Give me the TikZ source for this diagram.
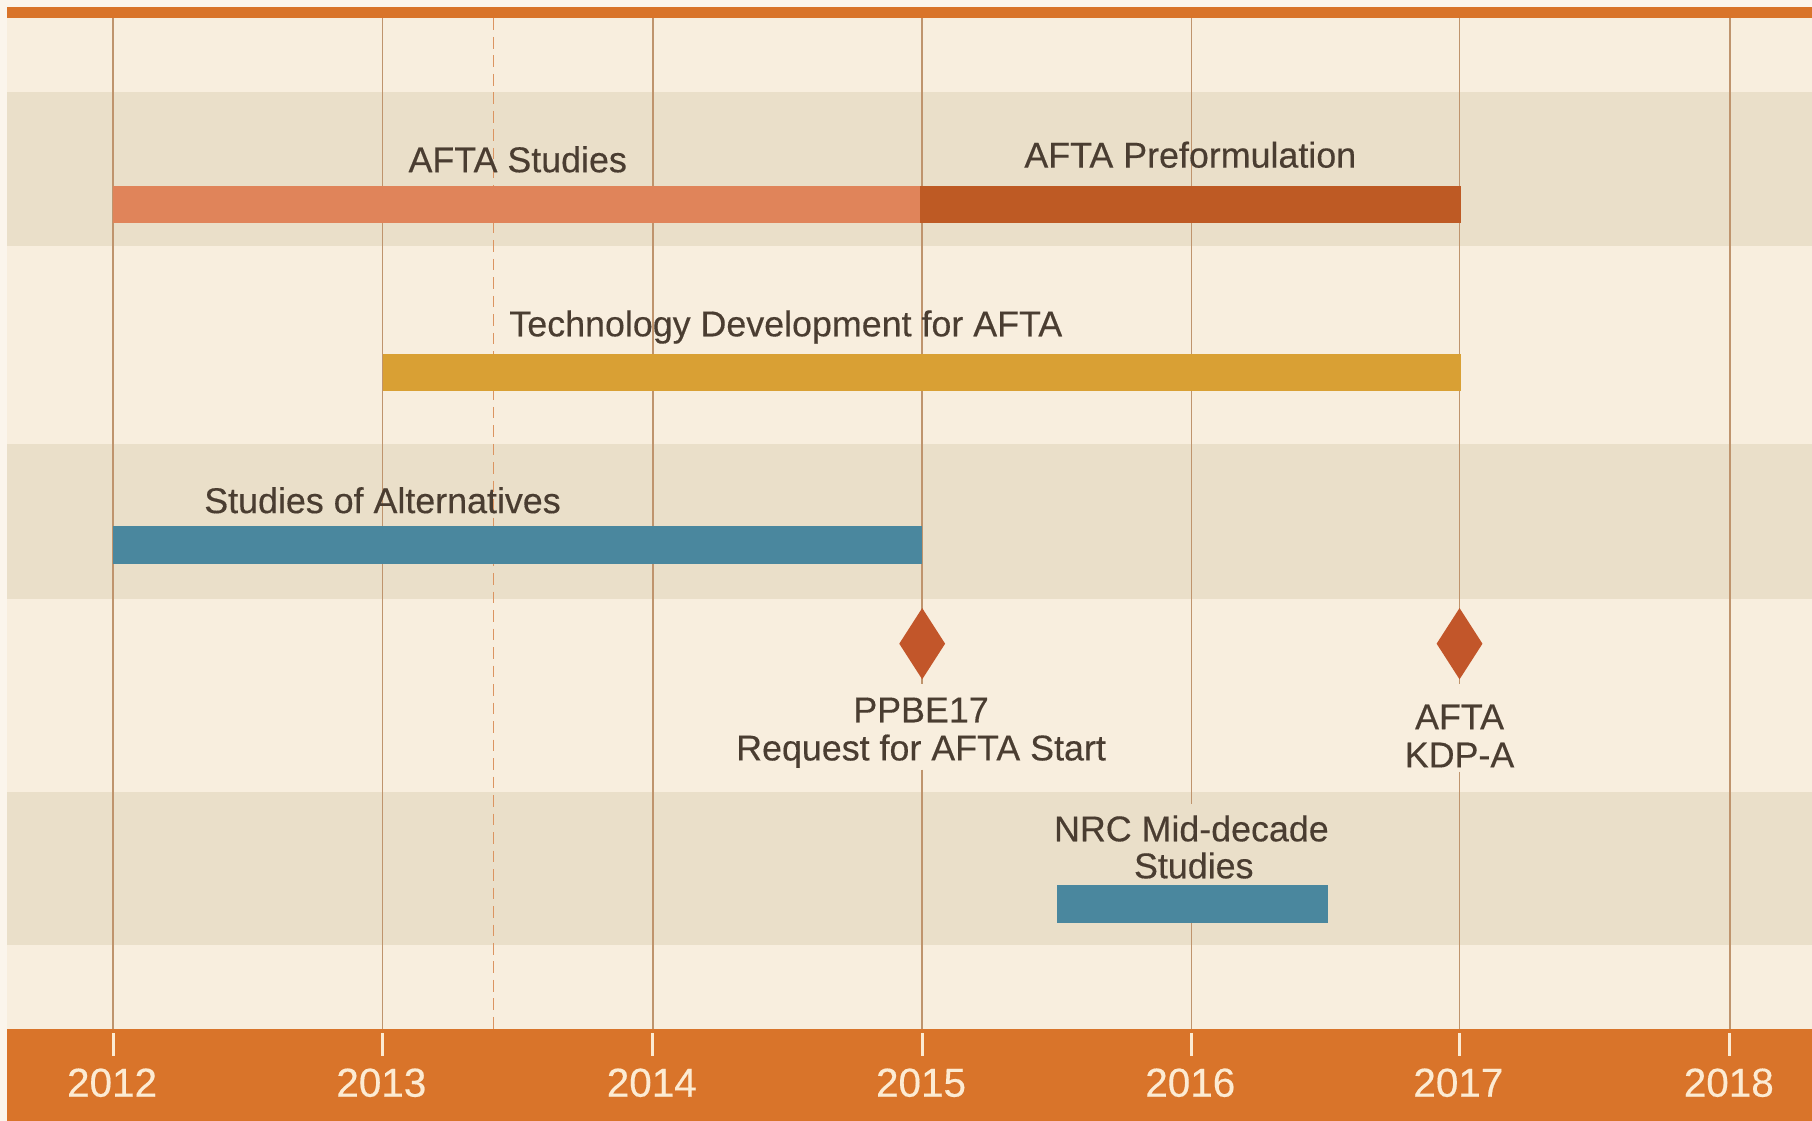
\documentclass[tikz,border=0pt]{standalone}
\usepackage{fontspec}
\setmainfont{Liberation Sans}
\newfontfamily\medfont[FakeBold=0.35]{Liberation Sans}
\usetikzlibrary{shapes.geometric}
\definecolor{bgwhite}{HTML}{FBF5EC}
\definecolor{rowlight}{HTML}{F8EEDE}
\definecolor{rowdark}{HTML}{EADFC9}
\definecolor{band}{HTML}{D9742A}
\definecolor{gridc}{HTML}{BF946D}
\definecolor{dashc}{HTML}{DB9461}
\definecolor{salmon}{HTML}{E0845A}
\definecolor{rust}{HTML}{BE5A24}
\definecolor{gold}{HTML}{D9A034}
\definecolor{teal}{HTML}{4A879E}
\definecolor{txt}{HTML}{4A3D31}
\definecolor{yeartxt}{HTML}{FCEBD3}
\definecolor{dia}{HTML}{C2562A}
\begin{document}
\begin{tikzpicture}[x=0.5pt,y=-0.5pt,
  lbl/.style={font=\medfont\fontsize{15.5}{16.5}\selectfont, text=txt, inner sep=0pt, anchor=base},
  yearlbl/.style={font=\medfont\fontsize{17.5}{18}\selectfont, text=yeartxt, inner sep=0pt, anchor=base},
  gridline/.style={draw=gridc, line width=0.8pt},
  tickline/.style={draw=yeartxt, line width=1.3pt},
  milestone/.style={diamond, fill=dia, inner sep=0pt, minimum width=20pt, minimum height=31pt}]
\useasboundingbox (0,0) rectangle (1568,970);
\fill[bgwhite] (0,0) rectangle (1568,970);
% rows
\fill[rowlight] (6,16) rectangle (1568,80);
\fill[rowdark]  (6,80) rectangle (1568,213);
\fill[rowlight] (6,213) rectangle (1568,384);
\fill[rowdark]  (6,384) rectangle (1568,518);
\fill[rowlight] (6,518) rectangle (1568,685);
\fill[rowdark]  (6,685) rectangle (1568,818);
\fill[rowlight] (6,818) rectangle (1568,890);
% bands
\fill[band] (6,6) rectangle (1568,16);
\fill[band] (6,890) rectangle (1568,970);
% grid lines
\draw[gridline] (98,16) -- (98,890);
\draw[gridline] (331,16) -- (331,890);
\draw[gridline] (565,16) -- (565,890);
\draw[gridline] (798,16) -- (798,592);
\draw[gridline] (798,666) -- (798,890);
\draw[gridline] (1031,16) -- (1031,696);
\draw[gridline] (1031,768) -- (1031,890);
\draw[gridline] (1263,16) -- (1263,592);
\draw[gridline] (1263,668) -- (1263,890);
\draw[gridline] (1497,16) -- (1497,890);
\draw[draw=dashc, line width=0.7pt, dash pattern=on 5pt off 3pt] (427,16) -- (427,890);
% bars
\fill[salmon] (98,161) rectangle (796,193);
\fill[rust] (796,161) rectangle (1264,193);
\fill[gold] (331,306) rectangle (1264,338);
\fill[teal] (98,455) rectangle (798,488);
\fill[teal] (915,766) rectangle (1149,799);
% labels
\node[lbl] (aftastudies) at (448,149) {AFTA Studies};
\node[lbl] (preform) at (1030,145) {AFTA Preformulation};
\node[lbl] (techdev) at (680,291) {Technology Development for AFTA};
\node[lbl] (soa) at (331,444) {Studies of Alternatives};
\node[lbl] (ppbe1) at (797,625) {PPBE17};
\node[lbl] (ppbe2) at (797,658) {Request for AFTA Start};
\node[lbl] (kdp1) at (1263,631) {AFTA};
\node[lbl] (kdp2) at (1263,664) {KDP-A};
\node[lbl] (nrc1) at (1031,728) {NRC Mid-decade};
\node[lbl] (nrc2) at (1033,760) {Studies};
% milestones
\node[milestone] (ms2015) at (798,557) {};
\node[milestone] (ms2017) at (1263,557) {};
% ticks and years
\foreach \x/\y in {98/2012,331/2013,565/2014,798/2015,1031/2016,1263/2017,1497/2018}{
  \draw[tickline] (\x,894) -- (\x,914);
  \node[yearlbl] (y\y) at (\x-1,949) {\y};
}
\end{tikzpicture}
\end{document}
